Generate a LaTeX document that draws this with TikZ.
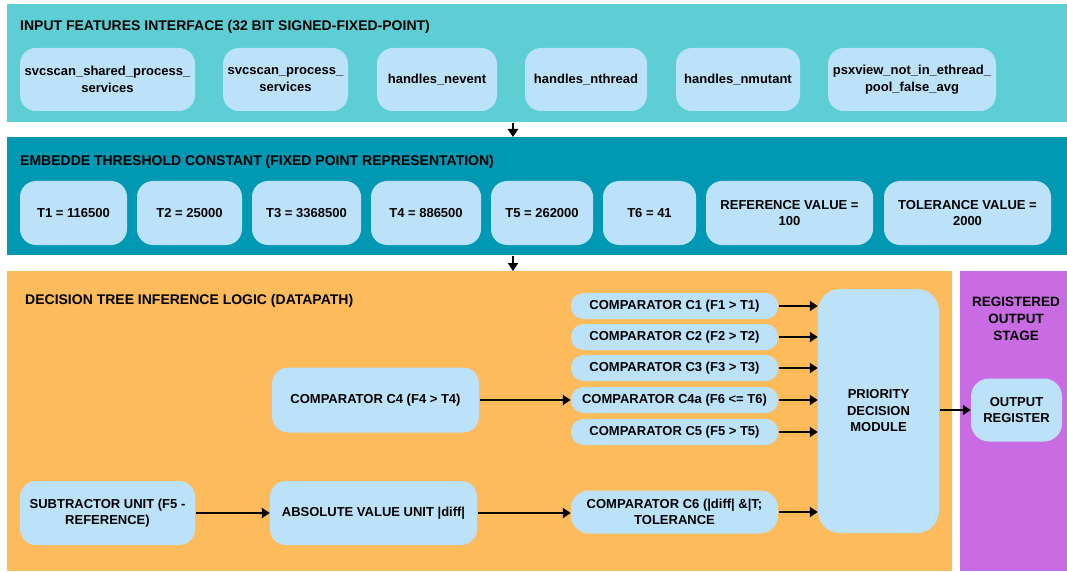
\documentclass[tikz,border=0pt]{standalone}
\usepackage{fontspec}
\setmainfont{Liberation Sans}
\usetikzlibrary{arrows.meta,calc}
\definecolor{tealA}{HTML}{5DCFD4}
\definecolor{tealB}{HTML}{0198B3}
\definecolor{orangeC}{HTML}{FDBB5C}
\definecolor{purpleD}{HTML}{C96BE2}
\definecolor{boxc}{HTML}{BBE2F9}
\tikzset{
  blk/.style={fill=boxc, rounded corners=16pt, inner sep=0pt, align=center,
    font=\fontsize{13}{16.5}\selectfont\bfseries, text=black},
  pill/.style={blk, rounded corners=12.5pt, minimum width=207pt},
  ttl/.style={anchor=west, inner sep=0pt, font=\fontsize{14}{17}\selectfont\bfseries, text=black},
  arr/.style={line width=2pt, -{Triangle[length=8pt,width=10pt]}, shorten <=1pt},
  panel/.style={inner sep=0pt, anchor=north west}
}
\begin{document}
\begin{tikzpicture}[x=1pt,y=-1pt]
\useasboundingbox (0,0) rectangle (1067,572);
\fill[white] (0,0) rectangle (1067,572);
% panels
\node[panel, fill=tealA, minimum width=1060pt, minimum height=118pt] (p1) at (7,4) {};
\node[panel, fill=tealB, minimum width=1060pt, minimum height=118pt] (p2) at (7,137) {};
\node[panel, fill=orangeC, minimum width=945pt, minimum height=300pt] (p3) at (7,271) {};
\node[panel, fill=purpleD, minimum width=107pt, minimum height=300pt] (p4) at (960,271) {};
% titles
\node[ttl] (t1) at (20,27) {INPUT FEATURES INTERFACE (32 BIT SIGNED-FIXED-POINT)};
\node[ttl] (t2) at (20,162) {EMBEDDE THRESHOLD CONSTANT (FIXED POINT REPRESENTATION)};
\node[ttl] (t3) at (25,301) {DECISION TREE INFERENCE LOGIC (DATAPATH)};
\node[align=center, inner sep=0pt, font=\fontsize{13.5}{17}\selectfont\bfseries] (t4) at (1016,319) {REGISTERED\\OUTPUT\\STAGE};
% input features
\node[blk, minimum width=175pt, minimum height=63pt] (in1) at (107.5,79.5) {svcscan\_shared\_process\_\\services};
\node[blk, minimum width=125pt, minimum height=63pt] (in2) at (285.5,79.5) {svcscan\_process\_\\services};
\node[blk, minimum width=120pt, minimum height=63pt] (in3) at (437,79.5) {handles\_nevent};
\node[blk, minimum width=122pt, minimum height=63pt] (in4) at (586,79.5) {handles\_nthread};
\node[blk, minimum width=124pt, minimum height=63pt] (in5) at (738,79.5) {handles\_nmutant};
\node[blk, minimum width=168pt, minimum height=63pt] (in6) at (912,79.5) {psxview\_not\_in\_ethread\_\\pool\_false\_avg};
% thresholds
\node[blk, minimum width=107pt, minimum height=64pt] (th1) at (73.5,213) {T1 = 116500};
\node[blk, minimum width=105pt, minimum height=64pt] (th2) at (189.5,213) {T2 = 25000};
\node[blk, minimum width=109pt, minimum height=64pt] (th3) at (306.5,213) {T3 = 3368500};
\node[blk, minimum width=110pt, minimum height=64pt] (th4) at (426,213) {T4 = 886500};
\node[blk, minimum width=102pt, minimum height=64pt] (th5) at (542,213) {T5 = 262000};
\node[blk, minimum width=93pt, minimum height=64pt] (th6) at (649.5,213) {T6 = 41};
\node[blk, minimum width=167pt, minimum height=64pt] (ref) at (789.5,213) {REFERENCE VALUE =\\100};
\node[blk, minimum width=167pt, minimum height=64pt] (tol) at (967.5,213) {TOLERANCE VALUE =\\2000};
% panel arrows
\coordinate (ax) at (513,0);
\draw[arr] (p1.south -| ax) -- (p2.north -| ax);
\draw[arr] (p2.south -| ax) -- (p3.north -| ax);
% datapath
\node[blk, minimum width=207pt, minimum height=65pt] (c4) at (375.5,400) {COMPARATOR C4 (F4 > T4)};
\node[blk, minimum width=175pt, minimum height=64pt] (sub) at (107.5,513) {SUBTRACTOR UNIT (F5 -\\REFERENCE)};
\node[blk, minimum width=207pt, minimum height=64pt] (abs) at (373.5,513) {ABSOLUTE VALUE UNIT |diff|};
\node[pill, minimum height=26pt] (c1) at (674.5,306) {COMPARATOR C1 (F1 > T1)};
\node[pill, minimum height=26pt] (c2) at (674.5,337) {COMPARATOR C2 (F2 > T2)};
\node[pill, minimum height=26pt] (c3) at (674.5,368) {COMPARATOR C3 (F3 > T3)};
\node[pill, minimum height=26pt] (c4a) at (674.5,400) {COMPARATOR C4a (F6 <= T6)};
\node[pill, minimum height=26pt] (c5) at (674.5,432) {COMPARATOR C5 (F5 > T5)};
\node[pill, rounded corners=18pt, minimum height=43pt] (c6) at (674.5,512) {COMPARATOR C6 (|diff| \&|T;\\TOLERANCE};
\node[blk, rounded corners=22pt, minimum width=121pt, minimum height=244pt] (pd) at (878.5,411) {PRIORITY\\DECISION\\MODULE};
\node[blk, rounded corners=18pt, minimum width=91pt, minimum height=63pt] (out) at (1016.5,410) {OUTPUT\\REGISTER};
% connectors
\draw[arr] (c1.east) -- (c1.east -| pd.west);
\draw[arr] (c2.east) -- (c2.east -| pd.west);
\draw[arr] (c3.east) -- (c3.east -| pd.west);
\draw[arr] (c4a.east) -- (c4a.east -| pd.west);
\draw[arr] (c5.east) -- (c5.east -| pd.west);
\draw[arr] (c6.east) -- (c6.east -| pd.west);
\draw[arr] (c4.east) -- (c4.east -| c4a.west);
\draw[arr] (sub.east) -- (sub.east -| abs.west);
\draw[arr] (abs.east) -- (abs.east -| c6.west);
\draw[arr] (out.west -| pd.east) -- (out.west);
\end{tikzpicture}
\end{document}
